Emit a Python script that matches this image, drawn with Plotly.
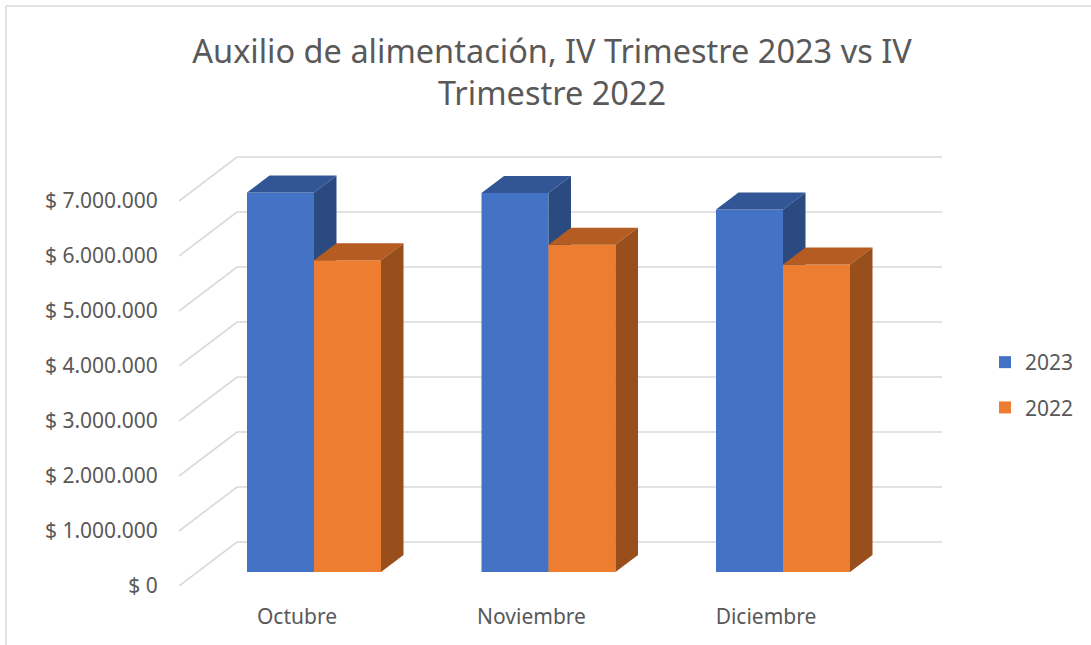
import plotly.graph_objects as go

categories = ["Octubre", "Noviembre", "Diciembre"]
series_2023 = [6900000, 6890000, 6590000]
series_2022 = [5670000, 5950000, 5590000]
tick_values = [0, 1000000, 2000000, 3000000, 4000000, 5000000, 6000000, 7000000]
tick_labels = ["$ 0", "$ 1.000.000", "$ 2.000.000", "$ 3.000.000",
               "$ 4.000.000", "$ 5.000.000", "$ 6.000.000", "$ 7.000.000"]
title_text = "Auxilio de alimentación, IV Trimestre 2023 vs IV<br>Trimestre 2022"

W, H = 1091, 645
FONT = "Noto Sans"
TXT = "#595959"
GRID = "#d9d9d9"

# plot box and scales, in pixels
L, R, T, B = 179, 942, 150, 586
PX_CAT = 234.5
PX_M = 55.0
X_BAR0 = 314
X_LAB0 = 297
FLOOR = 572

def xrange_for(origin):
    return [(L - origin) / PX_CAT, (R - origin) / PX_CAT]

def yrange_for(floor):
    return [(floor - B) / PX_M * 1e6, (floor - T) / PX_M * 1e6]

bar_w = 67 / PX_CAT
dep_x = 22.5 / PX_CAT
dep_y = 17 / PX_M * 1e6
wall_x = 58 / PX_CAT
wall_y = 44 / PX_M * 1e6

fig = go.Figure()

# wall gridlines
xr = xrange_for(X_LAB0)
gx, gy = [], []
for t in tick_values:
    gx += [xr[0], xr[0] + wall_x, xr[1], None]
    gy += [t, t + wall_y, t + wall_y, None]
fig.add_trace(go.Scatter(x=gx, y=gy, mode="lines", line=dict(color=GRID, width=1.6),
                         showlegend=False, hoverinfo="skip", xaxis="x", yaxis="y"))


def add_series(name, values, offset, front, top, side, yaxis):
    xs = list(range(len(values)))
    fig.add_trace(go.Bar(x=xs, y=values, name=name, width=bar_w, offset=offset,
                         marker=dict(color=front, line=dict(width=0)),
                         xaxis="x2", yaxis=yaxis, legendgroup=name))
    for i, v in zip(xs, values):
        a = i + offset
        b = a + bar_w
        fig.add_trace(go.Scatter(
            x=[a, a + dep_x, b + dep_x, b, a],
            y=[v, v + dep_y, v + dep_y, v, v],
            mode="lines", fill="toself", fillcolor=top, line=dict(width=0, color=top),
            showlegend=False, hoverinfo="skip", xaxis="x2", yaxis=yaxis))
        fig.add_trace(go.Scatter(
            x=[b, b + dep_x, b + dep_x, b, b],
            y=[v, v + dep_y, dep_y, 0, v],
            mode="lines", fill="toself", fillcolor=side, line=dict(width=0, color=side),
            showlegend=False, hoverinfo="skip", xaxis="x2", yaxis=yaxis))


add_series("2023", series_2023, -bar_w, "#4472C4", "#325596", "#2B4A80", "y2")
add_series("2022", series_2022, 0, "#ED7D31", "#B45C22", "#984F1C", "y3")

xdom = [L / W, R / W]
ydom = [1 - B / H, 1 - T / H]

fig.update_layout(
    width=W, height=H, autosize=False,
    margin=dict(l=0, r=0, t=0, b=0, pad=0, autoexpand=False),
    paper_bgcolor="white", plot_bgcolor="white",
    font=dict(family=FONT, color=TXT, size=21),
    title=dict(text=title_text, x=552 / W, xanchor="center", y=1 - 63 / H, yanchor="top",
               font=dict(family=FONT, size=32.5, color=TXT)),
    xaxis=dict(domain=xdom, range=xrange_for(X_LAB0), tickmode="array",
               tickvals=list(range(len(categories))), ticktext=categories,
               showgrid=False, zeroline=False, showline=False,
               ticks="outside", ticklen=12, tickcolor="rgba(0,0,0,0)",
               tickfont=dict(size=21, color=TXT)),
    yaxis=dict(domain=ydom, range=yrange_for(B), tickmode="array",
               tickvals=tick_values, ticktext=tick_labels,
               showgrid=False, zeroline=False, showline=False,
               ticks="outside", ticklen=16, tickcolor="rgba(0,0,0,0)",
               tickfont=dict(size=21, color=TXT)),
    xaxis2=dict(domain=xdom, range=xrange_for(X_BAR0), overlaying="x", visible=False),
    yaxis2=dict(domain=ydom, range=yrange_for(FLOOR), overlaying="y", visible=False),
    yaxis3=dict(domain=ydom, range=yrange_for(FLOOR), overlaying="y", visible=False),
    showlegend=True,
    legend=dict(x=985 / W, xanchor="left", y=1 - 385 / H, yanchor="middle",
                traceorder="grouped", tracegroupgap=15,
                font=dict(size=21, color=TXT), bgcolor="rgba(0,0,0,0)"),
    shapes=[
        dict(type="line", xref="paper", yref="paper", x0=6 / W, x1=6 / W, y0=0, y1=1 - 6 / H,
             line=dict(color=GRID, width=1.5)),
        dict(type="line", xref="paper", yref="paper", x0=6 / W, x1=1, y0=1 - 6 / H, y1=1 - 6 / H,
             line=dict(color=GRID, width=1.5)),
    ],
)

fig.write_html("out.html", config={"displayModeBar": False},
               post_script="document.body.style.margin='0';document.body.style.overflow='hidden';")
